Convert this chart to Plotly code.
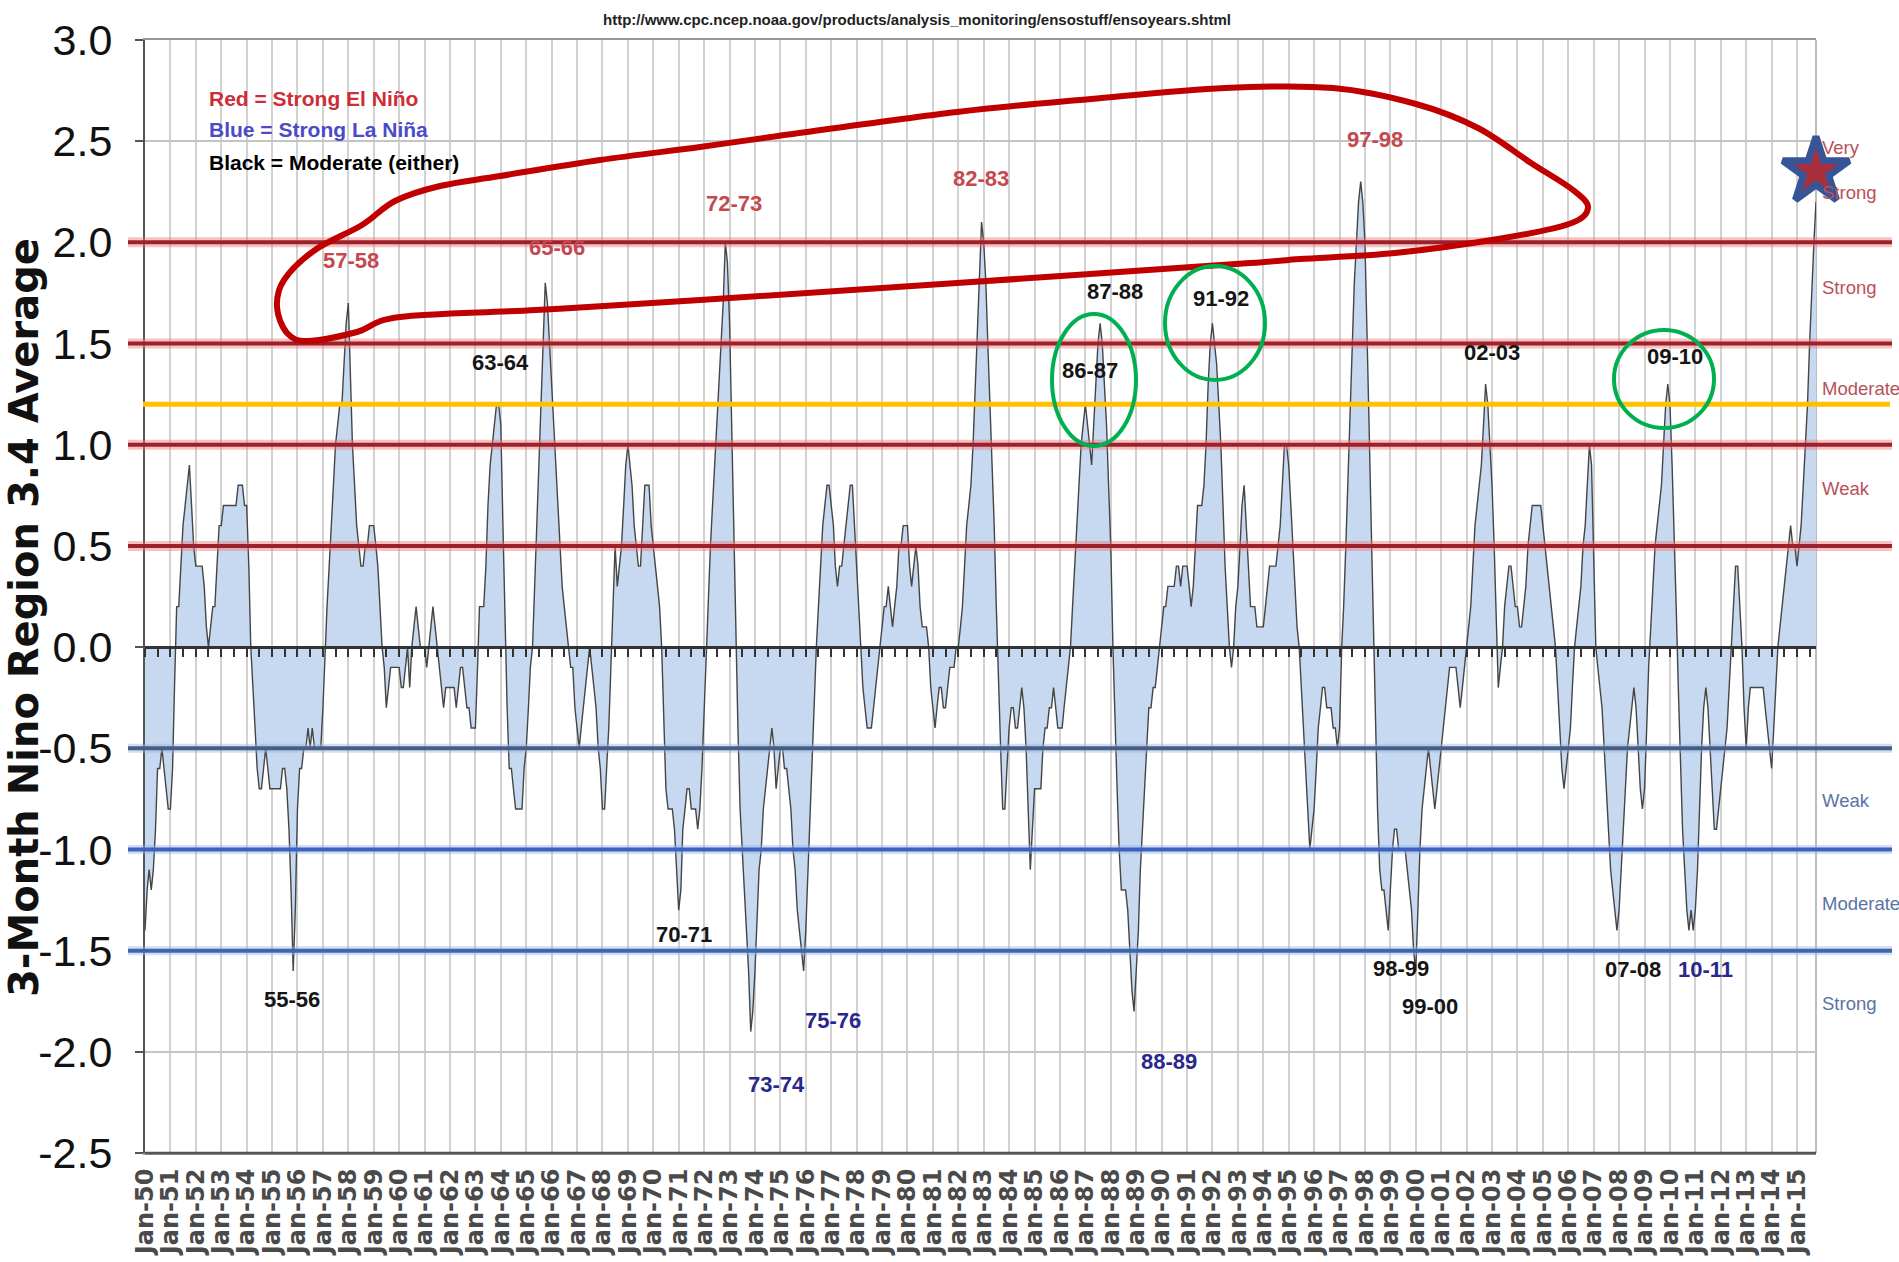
import plotly.graph_objects as go
import pandas as pd

# ---------------- data (3-month Nino 3.4 running mean) ----------------
oni_1950s = [
    -1.4, -1.2, -1.1, -1.2, -1.1, -0.9, -0.6, -0.6, -0.5, -0.6, -0.7, -0.8,
    -0.8, -0.6, -0.2, 0.2, 0.2, 0.4, 0.6, 0.7, 0.8, 0.9, 0.7, 0.5,
    0.4, 0.4, 0.4, 0.4, 0.3, 0.1, 0.0, 0.1, 0.2, 0.2, 0.4, 0.6,
    0.6, 0.7, 0.7, 0.7, 0.7, 0.7, 0.7, 0.7, 0.8, 0.8, 0.8, 0.7,
    0.7, 0.4, 0.0, -0.2, -0.4, -0.6, -0.7, -0.7, -0.6, -0.5, -0.6, -0.7,
    -0.7, -0.7, -0.7, -0.7, -0.7, -0.6, -0.6, -0.7, -0.9, -1.2, -1.6, -1.3,
    -0.8, -0.6, -0.6, -0.5, -0.5, -0.4, -0.5, -0.4, -0.5, -0.5, -0.5, -0.5,
    -0.3, 0.0, 0.2, 0.4, 0.6, 0.8, 1.0, 1.1, 1.2, 1.2, 1.4, 1.6,
    1.7, 1.3, 1.0, 0.8, 0.6, 0.5, 0.4, 0.4, 0.5, 0.5, 0.6, 0.6,
    0.6, 0.5, 0.4, 0.2, 0.0, -0.1, -0.3, -0.2, -0.1, -0.1, -0.1, -0.1,
]
oni_1960s = [
    -0.1, -0.2, -0.2, -0.1, 0.0, -0.2, 0.0, 0.1, 0.2, 0.1, 0.0, 0.0,
    0.0, -0.1, 0.0, 0.1, 0.2, 0.1, 0.0, -0.1, -0.2, -0.3, -0.2, -0.2,
    -0.2, -0.2, -0.2, -0.3, -0.2, -0.1, -0.1, -0.2, -0.3, -0.3, -0.4, -0.4,
    -0.4, -0.1, 0.2, 0.2, 0.2, 0.4, 0.7, 0.9, 1.0, 1.1, 1.2, 1.2,
    1.1, 0.6, 0.1, -0.3, -0.6, -0.6, -0.7, -0.8, -0.8, -0.8, -0.8, -0.6,
    -0.5, -0.3, -0.1, 0.0, 0.3, 0.6, 0.9, 1.2, 1.5, 1.8, 1.7, 1.5,
    1.3, 1.1, 0.9, 0.7, 0.5, 0.3, 0.2, 0.1, 0.0, -0.1, -0.1, -0.3,
    -0.4, -0.5, -0.4, -0.3, -0.2, -0.1, 0.0, -0.1, -0.2, -0.3, -0.5, -0.6,
    -0.8, -0.8, -0.6, -0.4, -0.1, 0.2, 0.5, 0.3, 0.4, 0.5, 0.7, 0.9,
    1.0, 0.9, 0.8, 0.6, 0.5, 0.4, 0.4, 0.6, 0.8, 0.8, 0.8, 0.6,
]
oni_1970s = [
    0.5, 0.4, 0.3, 0.2, 0.0, -0.4, -0.7, -0.8, -0.8, -0.8, -0.9, -1.1,
    -1.3, -1.2, -0.9, -0.8, -0.7, -0.7, -0.8, -0.8, -0.8, -0.9, -0.8, -0.6,
    -0.3, 0.0, 0.3, 0.5, 0.7, 0.9, 1.1, 1.3, 1.5, 1.7, 2.0, 1.9,
    1.6, 1.1, 0.5, 0.0, -0.4, -0.8, -1.0, -1.2, -1.4, -1.6, -1.9, -1.8,
    -1.6, -1.3, -1.1, -1.0, -0.8, -0.7, -0.6, -0.5, -0.4, -0.5, -0.7, -0.6,
    -0.5, -0.5, -0.6, -0.6, -0.7, -0.8, -1.0, -1.1, -1.3, -1.4, -1.5, -1.6,
    -1.4, -1.1, -0.8, -0.6, -0.3, 0.0, 0.2, 0.4, 0.6, 0.7, 0.8, 0.8,
    0.7, 0.6, 0.4, 0.3, 0.4, 0.4, 0.5, 0.6, 0.7, 0.8, 0.8, 0.6,
    0.4, 0.2, 0.0, -0.2, -0.3, -0.4, -0.4, -0.4, -0.3, -0.2, -0.1, 0.0,
    0.1, 0.2, 0.2, 0.3, 0.2, 0.1, 0.2, 0.3, 0.5, 0.5, 0.6, 0.6,
]
oni_1980s = [
    0.6, 0.4, 0.3, 0.4, 0.5, 0.4, 0.2, 0.1, 0.1, 0.1, 0.0, -0.2,
    -0.3, -0.4, -0.3, -0.2, -0.2, -0.3, -0.3, -0.2, -0.1, -0.1, -0.1, 0.0,
    0.0, 0.1, 0.2, 0.4, 0.6, 0.7, 0.8, 1.0, 1.3, 1.6, 1.9, 2.1,
    2.0, 1.8, 1.5, 1.2, 1.0, 0.6, 0.2, -0.1, -0.5, -0.8, -0.8, -0.6,
    -0.4, -0.3, -0.3, -0.4, -0.4, -0.3, -0.2, -0.3, -0.5, -0.8, -1.1, -0.9,
    -0.7, -0.7, -0.7, -0.7, -0.5, -0.4, -0.4, -0.3, -0.3, -0.2, -0.3, -0.4,
    -0.4, -0.4, -0.3, -0.2, -0.1, 0.0, 0.2, 0.4, 0.6, 0.8, 1.0, 1.1,
    1.2, 1.1, 1.0, 0.9, 1.1, 1.3, 1.5, 1.6, 1.5, 1.3, 1.1, 0.8,
    0.5, 0.0, -0.4, -0.7, -1.0, -1.2, -1.2, -1.2, -1.3, -1.5, -1.7, -1.8,
    -1.6, -1.4, -1.1, -0.9, -0.7, -0.5, -0.3, -0.3, -0.2, -0.2, -0.1, 0.0,
]
oni_1990s = [
    0.1, 0.2, 0.2, 0.3, 0.3, 0.3, 0.3, 0.4, 0.4, 0.3, 0.4, 0.4,
    0.4, 0.3, 0.2, 0.3, 0.5, 0.7, 0.7, 0.7, 0.8, 1.0, 1.3, 1.5,
    1.6, 1.5, 1.4, 1.2, 1.0, 0.7, 0.4, 0.2, 0.0, -0.1, 0.0, 0.2,
    0.3, 0.5, 0.7, 0.8, 0.6, 0.4, 0.2, 0.2, 0.2, 0.1, 0.1, 0.1,
    0.1, 0.2, 0.3, 0.4, 0.4, 0.4, 0.4, 0.5, 0.6, 0.8, 1.0, 1.0,
    0.9, 0.7, 0.5, 0.3, 0.1, 0.0, -0.2, -0.4, -0.6, -0.8, -1.0, -0.9,
    -0.8, -0.6, -0.4, -0.3, -0.2, -0.2, -0.3, -0.3, -0.3, -0.4, -0.4, -0.5,
    -0.4, 0.0, 0.2, 0.5, 0.8, 1.2, 1.5, 1.8, 2.0, 2.2, 2.3, 2.2,
    2.0, 1.6, 1.1, 0.6, 0.1, -0.4, -0.8, -1.1, -1.2, -1.2, -1.3, -1.4,
    -1.2, -1.0, -0.9, -0.9, -1.0, -1.0, -1.0, -1.0, -1.1, -1.2, -1.3, -1.5,
]
oni_2000s = [
    -1.6, -1.3, -1.0, -0.8, -0.7, -0.6, -0.5, -0.6, -0.7, -0.8, -0.7, -0.6,
    -0.5, -0.4, -0.3, -0.2, -0.1, -0.1, -0.1, -0.1, -0.2, -0.3, -0.2, -0.1,
    0.0, 0.1, 0.2, 0.4, 0.6, 0.7, 0.8, 0.9, 1.1, 1.3, 1.2, 1.0,
    0.8, 0.5, 0.2, -0.2, -0.1, 0.0, 0.2, 0.3, 0.4, 0.4, 0.3, 0.2,
    0.2, 0.1, 0.1, 0.2, 0.3, 0.5, 0.6, 0.7, 0.7, 0.7, 0.7, 0.7,
    0.6, 0.5, 0.4, 0.3, 0.2, 0.1, 0.0, -0.2, -0.4, -0.6, -0.7, -0.6,
    -0.5, -0.4, -0.2, 0.0, 0.1, 0.2, 0.3, 0.5, 0.6, 0.8, 1.0, 0.9,
    0.5, 0.0, -0.1, -0.2, -0.3, -0.5, -0.7, -0.9, -1.1, -1.2, -1.3, -1.4,
    -1.3, -1.1, -0.9, -0.7, -0.5, -0.4, -0.3, -0.2, -0.3, -0.5, -0.7, -0.8,
    -0.7, -0.4, -0.1, 0.1, 0.3, 0.5, 0.6, 0.7, 0.8, 1.0, 1.2, 1.3,
]
oni_2010s = [
    1.2, 0.9, 0.6, 0.2, -0.2, -0.6, -0.9, -1.1, -1.3, -1.4, -1.3, -1.4,
    -1.3, -1.1, -0.8, -0.5, -0.3, -0.2, -0.3, -0.5, -0.7, -0.9, -0.9, -0.8,
    -0.7, -0.6, -0.5, -0.4, -0.2, 0.0, 0.2, 0.4, 0.4, 0.2, 0.0, -0.3,
    -0.5, -0.3, -0.2, -0.2, -0.2, -0.2, -0.2, -0.2, -0.2, -0.3, -0.4, -0.5,
    -0.6, -0.4, -0.2, 0.0, 0.1, 0.2, 0.3, 0.4, 0.5, 0.6, 0.5, 0.5,
    0.4, 0.5, 0.6, 0.8, 1.0, 1.2, 1.5, 1.8, 2.0, 2.2,
]
start_month = "1950-01-01"

# y-axis ticks
y_ticks = [3.0, 2.5, 2.0, 1.5, 1.0, 0.5, 0.0, -0.5, -1.0, -1.5, -2.0, -2.5]

# threshold lines
el_nino_levels = [2.0, 1.5, 1.0, 0.5]
la_nina_levels = [-0.5, -1.0, -1.5]
highlight_level = 1.2
star_value = 2.35

# event labels: (text, kind)
event_labels = [
    ("57-58", "strong_nino"), ("65-66", "strong_nino"), ("72-73", "strong_nino"),
    ("82-83", "strong_nino"), ("97-98", "strong_nino"),
    ("63-64", "moderate"), ("86-87", "moderate"), ("87-88", "moderate"),
    ("91-92", "moderate"), ("02-03", "moderate"), ("09-10", "moderate"),
    ("55-56", "moderate"), ("70-71", "moderate"), ("98-99", "moderate"),
    ("99-00", "moderate"), ("07-08", "moderate"),
    ("73-74", "strong_nina"), ("75-76", "strong_nina"), ("88-89", "strong_nina"),
    ("10-11", "strong_nina"),
]
right_labels_nino = ["Very", "Strong", "Strong", "Moderate", "Weak"]
right_labels_nina = ["Weak", "Moderate", "Strong"]
legend_lines = ["Red = Strong El Niño", "Blue = Strong La Niña", "Black = Moderate (either)"]
source_url = "http://www.cpc.ncep.noaa.gov/products/analysis_monitoring/ensostuff/ensoyears.shtml"
y_title = "3-Month Nino Region 3.4 Average"

# ---------------- layout geometry ----------------
W, H = 1899, 1262
ML, MR, MT, MB = 145, 83, 40, 109
PW = W - ML - MR
PH = H - MT - MB


def px(x):
    return (x - ML) / PW


def py(y):
    return (H - MB - y) / PH


SANS = "Liberation Sans, Arial, sans-serif"
WIDE = "DejaVu Sans, Verdana, sans-serif"

values = oni_1950s + oni_1960s + oni_1970s + oni_1980s + oni_1990s + oni_2000s + oni_2010s
dates = pd.date_range(start_month, periods=len(values), freq="MS")
YMIN, YMAX = min(y_ticks), max(y_ticks)

fig = go.Figure()
fig.add_trace(go.Scatter(
    x=dates, y=values, mode="lines", fill="tozeroy",
    fillcolor="rgb(198,217,240)", line=dict(color="#454545", width=1.4),
    hoverinfo="x+y", showlegend=False,
))
# invisible companion trace to carry the zero-line tick axis
fig.add_trace(go.Scatter(
    x=dates, y=values, xaxis="x2", mode="lines", line=dict(width=0),
    opacity=0, hoverinfo="skip", showlegend=False,
))
fig.add_trace(go.Scatter(
    x=[dates[-1]], y=[star_value], mode="markers", cliponaxis=False,
    marker=dict(symbol="star", size=50, color="rgb(168,48,60)",
                line=dict(color="rgb(55,85,150)", width=7)),
    hoverinfo="skip", showlegend=False,
))

shapes = []
# right plot border
shapes.append(dict(type="line", xref="paper", yref="paper", x0=1, x1=1, y0=0, y1=1,
                   line=dict(color="#bdbdbd", width=2), layer="below"))
for lv in el_nino_levels:
    shapes.append(dict(type="line", xref="paper", yref="y", x0=px(128), x1=px(1892), y0=lv, y1=lv,
                       line=dict(color="rgba(235,120,120,0.45)", width=10), layer="above"))
    shapes.append(dict(type="line", xref="paper", yref="y", x0=px(128), x1=px(1892), y0=lv, y1=lv,
                       line=dict(color="rgb(158,32,42)", width=4), layer="above"))
blue_cols = ["rgb(72,94,128)", "rgb(62,96,190)", "rgb(60,104,170)"]
for lv, c in zip(la_nina_levels, blue_cols):
    shapes.append(dict(type="line", xref="paper", yref="y", x0=px(128), x1=px(1892), y0=lv, y1=lv,
                       line=dict(color="rgba(150,180,230,0.45)", width=9), layer="above"))
    shapes.append(dict(type="line", xref="paper", yref="y", x0=px(128), x1=px(1892), y0=lv, y1=lv,
                       line=dict(color=c, width=4), layer="above"))
shapes.append(dict(type="line", xref="paper", yref="y", x0=px(143), x1=px(1890),
                   y0=highlight_level, y1=highlight_level,
                   line=dict(color="#FFC000", width=5), layer="above"))

# hand-drawn red loop (pixel positions on the page)
loop_px = [(362, 225), (395, 201), (440, 186), (500, 176), (600, 160), (700, 147), (778, 136),
           (957, 112), (1091, 99), (1225, 88), (1333, 88), (1416, 104), (1478, 128), (1531, 163),
           (1573, 190), (1588, 208), (1569, 224), (1498, 239), (1395, 253), (1300, 259),
           (1250, 263), (957, 283), (700, 300), (536, 310), (400, 317), (357, 332), (308, 341),
           (287, 333), (277, 307), (284, 280), (315, 250)]
pts = [(px(x), py(y)) for x, y in loop_px]
n = len(pts)
path = "M %.5f,%.5f" % pts[0]
for i in range(n):
    p0, p1, p2, p3 = pts[i - 1], pts[i], pts[(i + 1) % n], pts[(i + 2) % n]
    c1 = (p1[0] + (p2[0] - p0[0]) / 6, p1[1] + (p2[1] - p0[1]) / 6)
    c2 = (p2[0] - (p3[0] - p1[0]) / 6, p2[1] - (p3[1] - p1[1]) / 6)
    path += " C %.5f,%.5f %.5f,%.5f %.5f,%.5f" % (c1 + c2 + p2)
path += " Z"
shapes.append(dict(type="path", xref="paper", yref="paper", path=path,
                   line=dict(color="#C00000", width=6), layer="above"))

# green ellipses (center x, center y, rx, ry in page pixels)
for cx, cy, rx, ry in [(1094, 380, 42, 66), (1215, 323, 50, 57), (1664, 379, 50, 49)]:
    shapes.append(dict(type="circle", xref="paper", yref="paper",
                       x0=px(cx - rx), x1=px(cx + rx), y0=py(cy + ry), y1=py(cy - ry),
                       line=dict(color="#00B050", width=4), layer="above"))

# bottom axis line darker than top border
shapes.append(dict(type="line", xref="paper", yref="paper", x0=0, x1=1, y0=0, y1=0,
                   line=dict(color="#555555", width=2.5), layer="above"))

annotations = []
colors = {"strong_nino": "rgb(196,72,80)", "moderate": "#151515", "strong_nina": "rgb(40,40,140)"}
label_pos = {
    "57-58": (351, 260), "65-66": (557, 247), "72-73": (734, 203), "82-83": (981, 178),
    "97-98": (1375, 139), "63-64": (500, 363), "86-87": (1090, 371), "87-88": (1115, 292),
    "91-92": (1221, 298), "02-03": (1492, 352), "09-10": (1675, 357), "55-56": (292, 999),
    "70-71": (684, 934), "98-99": (1401, 968), "99-00": (1430, 1006), "07-08": (1633, 969),
    "73-74": (776, 1084), "75-76": (833, 1020), "88-89": (1169, 1061), "10-11": (1705, 969),
}
for txt, kind in event_labels:
    x, y = label_pos[txt]
    annotations.append(dict(text=txt, xref="paper", yref="paper", x=px(x), y=py(y),
                            xanchor="center", yanchor="middle", showarrow=False,
                            font=dict(family=SANS, size=22, weight="bold", color=colors[kind])))

nino_y = [147, 192, 287, 388, 488]
for txt, y in zip(right_labels_nino, nino_y):
    annotations.append(dict(text=txt, xref="paper", yref="paper", x=px(1820), y=py(y),
                            xanchor="left", yanchor="middle", showarrow=False,
                            font=dict(family=SANS, size=18.5, color="rgb(185,80,88)")))
nina_y = [800, 903, 1003]
for txt, y in zip(right_labels_nina, nina_y):
    annotations.append(dict(text=txt, xref="paper", yref="paper", x=px(1820), y=py(y),
                            xanchor="left", yanchor="middle", showarrow=False,
                            font=dict(family=SANS, size=18.5, color="rgb(90,115,165)")))

leg_cols = ["rgb(205,45,55)", "rgb(75,75,200)", "#000000"]
for txt, y, c in zip(legend_lines, [98, 130, 162], leg_cols):
    annotations.append(dict(text=txt, xref="paper", yref="paper", x=px(207), y=py(y),
                            xanchor="left", yanchor="middle", showarrow=False,
                            font=dict(family=SANS, size=21, weight="bold", color=c)))

annotations.append(dict(text=source_url, xref="paper", yref="paper", x=px(917), y=py(20),
                        xanchor="center", yanchor="middle", showarrow=False,
                        font=dict(family=SANS, size=15, weight="bold", color="#222222")))
annotations.append(dict(text="<b>%s</b>" % y_title, xref="paper", yref="paper",
                        x=px(24), y=py(618), xanchor="center", yanchor="middle",
                        textangle=-90, showarrow=False,
                        font=dict(family=WIDE, size=40, color="#111111")))

fig.update_layout(
    width=W, height=H,
    margin=dict(l=ML, r=MR, t=MT, b=MB, autoexpand=False),
    paper_bgcolor="white", plot_bgcolor="white",
    showlegend=False,
    shapes=shapes, annotations=annotations,
    xaxis=dict(
        type="date", range=[dates[0], dates[-1]],
        tick0=start_month, dtick="M12", tickformat="%b-%y", tickangle=-90,
        tickfont=dict(family=WIDE, size=24, weight="bold", color="#4a4a4a"),
        showgrid=True, gridcolor="#d2d2d2", gridwidth=1.5,
        showline=True, linecolor="#9a9a9a", linewidth=2, mirror=True,
        ticks="", zeroline=False, ticklabelstandoff=4,
    ),
    xaxis2=dict(
        type="date", overlaying="x", matches="x", anchor="free",
        position=(0 - YMIN) / (YMAX - YMIN), side="bottom",
        tick0=start_month, dtick="M6", ticks="outside", ticklen=8, tickwidth=1.5,
        tickcolor="#333333", showticklabels=False, showgrid=False,
        showline=True, linecolor="#333333", linewidth=2.5,
    ),
    yaxis=dict(
        range=[YMIN, YMAX], tickmode="array", tickvals=y_ticks,
        ticktext=["%.1f" % v for v in y_ticks],
        tickfont=dict(family=SANS, size=43, color="#111111"),
        showgrid=True, gridcolor="#c4c4c4", gridwidth=2,
        showline=True, linecolor="#555555", linewidth=2,
        ticks="outside", ticklen=8, tickcolor="#555555", tickwidth=2,
        zeroline=False, ticklabelstandoff=14,
    ),
)

fig.write_html("out.html", config={"displayModeBar": False},
               post_script="document.body.style.margin='0';document.body.style.overflow='hidden';")
